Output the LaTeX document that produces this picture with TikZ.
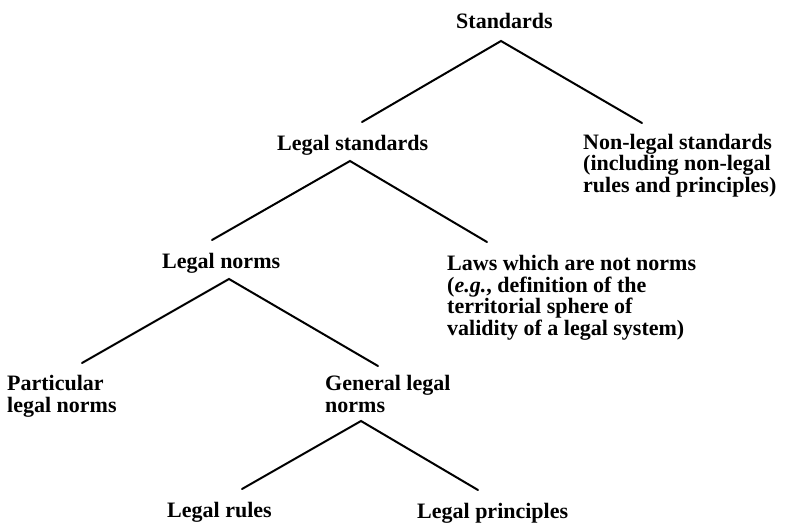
\documentclass[tikz,border=0pt]{standalone}
\usepackage{fontspec}
\setmainfont{Liberation Serif}
\usetikzlibrary{calc}

\tikzset{
  treetext/.style={font=\fontsize{22}{21.5}\selectfont\bfseries, align=left, inner sep=0pt, anchor=base west},
  branch/.style={line width=2pt, line cap=round, line join=miter},
}

\begin{document}
\begin{tikzpicture}[x=1pt,y=1pt,yscale=-1,xscale=1]
\useasboundingbox (0,0) rectangle (785,523);

% Text Node (multi-line nodes sit on their last baseline)
\node[treetext] (std) at (456,28) {Standards};
% Text Node
\node[treetext] (ls) at (277,150) {Legal standards};
% Text Node
\node[treetext] (nls) at (583,192) {Non-legal standards\\(including non-legal\\rules and principles)};
% Text Node
\node[treetext] (ln) at (162,268) {Legal norms};
% Text Node
\node[treetext] (laws) at (447,335) {Laws which are not norms\\(\textit{e.g.}, definition of the\\territorial sphere of\\validity of a legal system)};
% Text Node
\node[treetext] (pln) at (7,412) {Particular\\legal norms};
% Text Node
\node[treetext] (gln) at (325,412) {General legal\\norms};
% Text Node
\node[treetext] (lr) at (167,517) {Legal rules};
% Text Node
\node[treetext] (lp) at (417,518) {Legal principles};

%Straight Lines
\draw[branch] ($(ls.base west)+(85,-28)$) -- ($(std.base west)+(45,13)$) -- ($(nls.base west)+(59,-69)$);
%Straight Lines
\draw[branch] ($(ln.base west)+(50,-28)$) -- ($(ls.base west)+(73,11)$) -- ($(laws.base west)+(40,-93)$);
%Straight Lines
\draw[branch] ($(pln.base west)+(75,-49)$) -- ($(ln.base west)+(67,11)$) -- ($(gln.base west)+(53,-46)$);
%Straight Lines
\draw[branch] ($(lr.base west)+(75,-28)$) -- ($(gln.base west)+(36,9)$) -- ($(lp.base west)+(61,-28)$);
\end{tikzpicture}
\end{document}
